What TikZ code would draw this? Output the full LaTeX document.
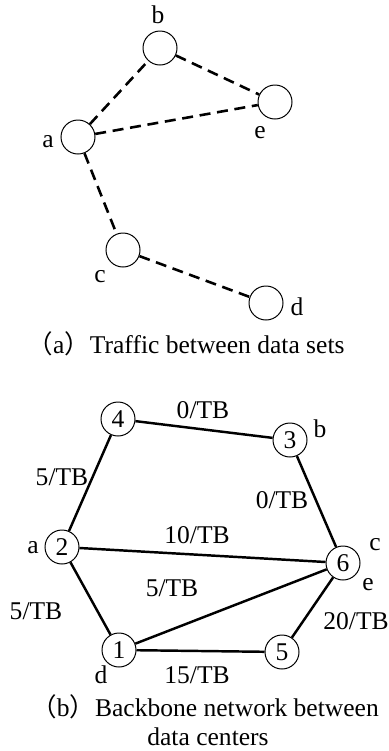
\documentclass[tikz,border=0pt]{standalone}
\usepackage{fontspec}
\setmainfont{Liberation Serif}
\newfontfamily\cjk{Noto Sans CJK SC}
\usepackage{tikz}

\tikzset{
    site/.style={circle,draw,minimum size=1.02cm,inner sep=0pt,line width=0.85pt},
    traffic/.style={line width=2.2pt,dash pattern=on 0.33cm off 0.2cm},
    link/.style={line width=2.1pt},
    lbl/.style={inner sep=0pt,anchor=base}
}

\begin{document}
\begin{tikzpicture}[x=0.03cm,y=-0.03cm,font=\fontsize{21.8}{26}\selectfont]
    \useasboundingbox (0,0) rectangle (388,751);

    % TOP GRAPH
    % Data sets
    \node[site] (a) at (78,137) {};
    \node[site] (b) at (160,48) {};
    \node[site] (e) at (275,102) {};
    \node[site] (c) at (123,250) {};
    \node[site] (d) at (266,303) {};

    \node[lbl] (la) at (48,147) {a};
    \node[lbl] (lb) at (158,23) {b};
    \node[lbl] (le) at (260,138) {e};
    \node[lbl] (lc) at (100,282) {c};
    \node[lbl] (ld) at (297,315) {d};

    % Traffic
    \draw[traffic] (a) -- (b);
    \draw[traffic] (b) -- (e);
    \draw[traffic] (a) -- (e);
    \draw[traffic] (a) -- (c);
    \draw[traffic] (c) -- (d);

    \node[lbl] (capa) at (186,353) {{\cjk （}a{\cjk ）}Traffic between data sets};

    % BOTTOM GRAPH
    % Data centers
    \node[site] (n4) at (118,419) {4};
    \node[site] (n3) at (290,440) {3};
    \node[site] (n2) at (62,547) {2};
    \node[site] (n6) at (343,563) {6};
    \node[site] (n1) at (119,650) {1};
    \node[site] (n5) at (282,652) {5};

    \node[lbl] (lb2) at (320,437) {b};
    \node[lbl] (la2) at (33,553) {a};
    \node[lbl] (lc2) at (375,550) {c};
    \node[lbl] (le2) at (368,590) {e};
    \node[lbl] (ld2) at (101,683) {d};

    % Links
    \draw[link] (n4) -- (n3);
    \draw[link] (n4) -- (n2);
    \draw[link] (n3) -- (n6);
    \draw[link] (n2) -- (n6);
    \draw[link] (n2) -- (n1);
    \draw[link] (n1) -- (n6);
    \draw[link] (n1) -- (n5);
    \draw[link] (n5) -- (n6);

    % Link loads
    \node[lbl] (w43) at (203,418) {0/TB};
    \node[lbl] (w42) at (62,485) {5/TB};
    \node[lbl] (w36) at (282,508) {0/TB};
    \node[lbl] (w26) at (197,543) {10/TB};
    \node[lbl] (w16) at (172,596) {5/TB};
    \node[lbl] (w21) at (36,619) {5/TB};
    \node[lbl] (w56) at (356,629) {20/TB};
    \node[lbl] (w15) at (197,683) {15/TB};

    \node[lbl] (capb) at (205,716) {{\cjk （}b{\cjk ）}Backbone network between};
    \node[lbl] (capb2) at (208,745) {data centers};
\end{tikzpicture}
\end{document}
